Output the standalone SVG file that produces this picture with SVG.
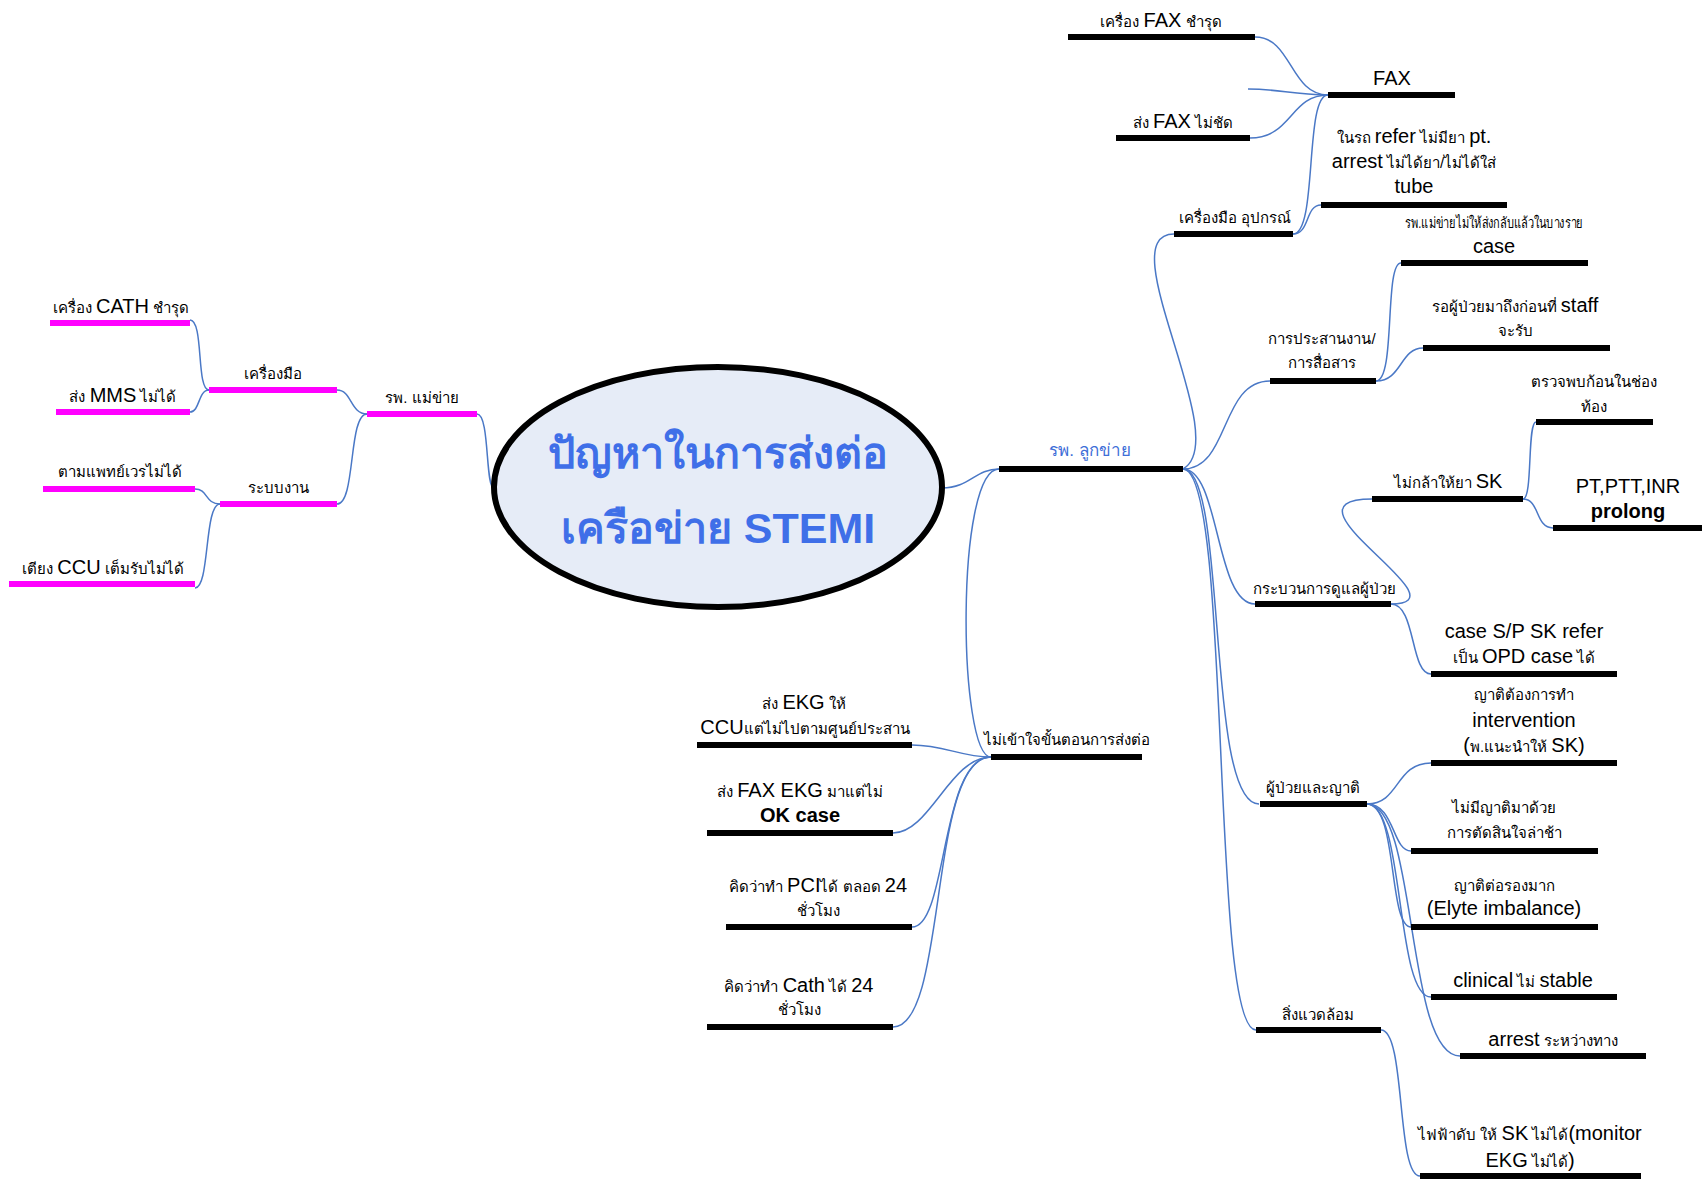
<svg xmlns="http://www.w3.org/2000/svg" width="1702" height="1180" viewBox="0 0 1702 1180">
<style>
text{font-family:"Liberation Sans","Noto Sans",sans-serif;fill:#000;text-anchor:middle}
.s{font-size:15px}
.b{font-size:20px}
.bb{font-size:20px;font-weight:bold}
.bar{stroke:#000;stroke-width:6;fill:none}
.mbar{stroke:#FF00FF;stroke-width:6;fill:none}
.c{fill:none;stroke:#4A78C6;stroke-width:1.5}
.blue{fill:#3F6FD8;font-size:17px}
.title{font-size:43px;fill:#3F6FE8;font-weight:bold}
</style>
<rect width="1702" height="1180" fill="#fff"/>
<g id="connectors">
<path class="c" d="M477,414 C490,414 485,488 494,488"/>
<path class="c" d="M367,414 C350,414 352,390 337,390"/>
<path class="c" d="M367,414 C348,414 356,504 337,504"/>
<path class="c" d="M209,390 C196,390 204,320 190,320"/>
<path class="c" d="M209,390 C198,390 200,412 190,412"/>
<path class="c" d="M220,504 C205,504 208,489 195,489"/>
<path class="c" d="M220,504 C204,504 210,588 195,588"/>
<path class="c" d="M942,488 C970,488 975,469 999,469"/>
<path class="c" d="M999,469 C955,469 958,757 991,757"/>
<path class="c" d="M912,745 C945,745 960,757 991,757"/>
<path class="c" d="M893,833 C930,833 950,757 991,757"/>
<path class="c" d="M912,927 C948,927 940,757 991,757"/>
<path class="c" d="M893,1027 C948,1027 928,757 991,757"/>
<path class="c" d="M1183,469 C1235,440 1108,234 1174,234"/>
<path class="c" d="M1183,469 C1230,469 1220,381 1270,381"/>
<path class="c" d="M1183,469 C1220,469 1215,604 1255,604"/>
<path class="c" d="M1183,469 C1228,469 1205,804 1259,804"/>
<path class="c" d="M1183,469 C1232,469 1210,1030 1256,1030"/>
<path class="c" d="M1255,37 C1292,37 1290,95 1328,95"/>
<path class="c" d="M1248,89 C1280,89 1292,95 1328,95"/>
<path class="c" d="M1250,138 C1292,138 1290,95 1328,95"/>
<path class="c" d="M1293,234 C1318,234 1304,95 1328,95"/>
<path class="c" d="M1293,234 C1310,234 1305,205 1321,205"/>
<path class="c" d="M1376,381 C1396,381 1384,263 1401,263"/>
<path class="c" d="M1376,381 C1402,381 1400,348 1423,348"/>
<path class="c" d="M1391,604 C1470,604 1270,499 1372,499"/>
<path class="c" d="M1523,499 C1533,499 1527,422 1536,422"/>
<path class="c" d="M1523,499 C1540,499 1535,528 1553,528"/>
<path class="c" d="M1391,604 C1416,604 1410,674 1431,674"/>
<path class="c" d="M1367,804 C1400,804 1395,763 1431,763"/>
<path class="c" d="M1367,804 C1395,804 1392,851 1411,851"/>
<path class="c" d="M1367,804 C1398,804 1388,927 1411,927"/>
<path class="c" d="M1367,804 C1405,804 1395,997 1431,997"/>
<path class="c" d="M1367,804 C1418,804 1405,1056 1460,1056"/>
<path class="c" d="M1381,1030 C1406,1030 1396,1176 1420,1176"/>
</g>
<g id="center">
<ellipse cx="718" cy="487" rx="224" ry="120" fill="#E6ECF7" stroke="#000" stroke-width="6"/>
<text class="title" x="718" y="468">ปัญหาในการส่งต่อ</text>
<text class="title" x="718" y="543">เครือข่าย STEMI</text>
</g>
<g id="n-mae"><line class="mbar" x1="367" y1="414" x2="477" y2="414"/><text class="s" x="422" y="403">รพ. แม่ข่าย</text></g>
<g id="n-tool"><line class="mbar" x1="209" y1="390" x2="337" y2="390"/><text class="s" x="273" y="379">เครื่องมือ</text></g>
<g id="n-cath"><line class="mbar" x1="50" y1="323" x2="190" y2="323"/><text x="121" y="313"><tspan class="s">เครื่อง </tspan><tspan class="b">CATH</tspan><tspan class="s"> ชำรุด</tspan></text></g>
<g id="n-mms"><line class="mbar" x1="56" y1="412" x2="190" y2="412"/><text x="123" y="402"><tspan class="s">ส่ง </tspan><tspan class="b">MMS</tspan><tspan class="s"> ไม่ได้</tspan></text></g>
<g id="n-sys"><line class="mbar" x1="220" y1="504" x2="337" y2="504"/><text class="s" x="278" y="493">ระบบงาน</text></g>
<g id="n-doc"><line class="mbar" x1="43" y1="489" x2="195" y2="489"/><text class="s" x="120" y="477">ตามแพทย์เวรไม่ได้</text></g>
<g id="n-bed"><line class="mbar" x1="9" y1="584" x2="195" y2="584"/><text x="103" y="574"><tspan class="s">เตียง </tspan><tspan class="b">CCU</tspan><tspan class="s"> เต็มรับไม่ได้</tspan></text></g>
<g id="n-luk"><line class="bar" x1="999" y1="469" x2="1183" y2="469"/><text class="blue" x="1090" y="456">รพ. ลูกข่าย</text></g>
<g id="n-equip"><line class="bar" x1="1174" y1="234" x2="1293" y2="234"/><text class="s" x="1235" y="223">เครื่องมือ อุปกรณ์</text></g>
<g id="n-fax"><line class="bar" x1="1328" y1="95" x2="1455" y2="95"/><text class="b" x="1392" y="85">FAX</text></g>
<g id="n-faxbroken"><line class="bar" x1="1068" y1="37" x2="1255" y2="37"/><text x="1161" y="27"><tspan class="s">เครื่อง </tspan><tspan class="b">FAX</tspan><tspan class="s"> ชำรุด</tspan></text></g>
<g id="n-faxunclear"><line class="bar" x1="1116" y1="138" x2="1250" y2="138"/><text x="1183" y="128"><tspan class="s">ส่ง </tspan><tspan class="b">FAX</tspan><tspan class="s"> ไม่ชัด</tspan></text></g>
<g id="n-car"><line class="bar" x1="1321" y1="205" x2="1507" y2="205"/>
<text x="1414" y="143"><tspan class="s">ในรถ </tspan><tspan class="b">refer</tspan><tspan class="s"> ไม่มียา </tspan><tspan class="b">pt.</tspan></text>
<text x="1414" y="168"><tspan class="b">arrest</tspan><tspan class="s"> ไม่ได้ยา/ไม่ได้ใส่</tspan></text>
<text class="b" x="1414" y="193">tube</text></g>
<g id="n-coord"><line class="bar" x1="1270" y1="381" x2="1376" y2="381"/><text class="s" x="1322" y="344">การประสานงาน/</text><text class="s" x="1322" y="368">การสื่อสาร</text></g>
<g id="n-somecase"><line class="bar" x1="1401" y1="263" x2="1588" y2="263"/><text class="s" x="1494" y="228" textLength="178" lengthAdjust="spacingAndGlyphs">รพ.แม่ข่ายไม่ให้ส่งกลับแล้วในบางราย</text><text class="b" x="1494" y="253">case</text></g>
<g id="n-staff"><line class="bar" x1="1423" y1="348" x2="1610" y2="348"/><text x="1515" y="312"><tspan class="s">รอผู้ป่วยมาถึงก่อนที่ </tspan><tspan class="b">staff</tspan></text><text class="s" x="1515" y="336">จะรับ</text></g>
<g id="n-care"><line class="bar" x1="1255" y1="604" x2="1391" y2="604"/><text class="s" x="1324" y="594">กระบวนการดูแลผู้ป่วย</text></g>
<g id="n-sk"><line class="bar" x1="1372" y1="499" x2="1523" y2="499"/><text x="1448" y="488"><tspan class="s">ไม่กล้าให้ยา </tspan><tspan class="b">SK</tspan></text></g>
<g id="n-mass"><line class="bar" x1="1536" y1="422" x2="1653" y2="422"/><text class="s" x="1594" y="387">ตรวจพบก้อนในช่อง</text><text class="s" x="1594" y="412">ท้อง</text></g>
<g id="n-pt"><line class="bar" x1="1553" y1="528" x2="1702" y2="528"/><text class="b" x="1628" y="493">PT,PTT,INR</text><text class="bb" x="1628" y="518">prolong</text></g>
<g id="n-opd"><line class="bar" x1="1431" y1="674" x2="1617" y2="674"/><text class="b" x="1524" y="638">case S/P SK refer</text><text x="1524" y="663"><tspan class="s">เป็น </tspan><tspan class="b">OPD case</tspan><tspan class="s"> ได้</tspan></text></g>
<g id="n-family"><line class="bar" x1="1260" y1="804" x2="1367" y2="804"/><text class="s" x="1313" y="793">ผู้ป่วยและญาติ</text></g>
<g id="n-interv"><line class="bar" x1="1431" y1="763" x2="1617" y2="763"/><text class="s" x="1524" y="700">ญาติต้องการทำ</text><text class="b" x="1524" y="727">intervention</text><text x="1524" y="752"><tspan class="b">(</tspan><tspan class="s">พ.แนะนำให้ </tspan><tspan class="b">SK)</tspan></text></g>
<g id="n-norel"><line class="bar" x1="1411" y1="851" x2="1598" y2="851"/><text class="s" x="1504" y="813">ไม่มีญาติมาด้วย</text><text class="s" x="1504" y="838">การตัดสินใจล่าช้า</text></g>
<g id="n-elyte"><line class="bar" x1="1411" y1="927" x2="1598" y2="927"/><text class="s" x="1504" y="891">ญาติต่อรองมาก</text><text class="b" x="1504" y="915">(Elyte imbalance)</text></g>
<g id="n-clin"><line class="bar" x1="1431" y1="997" x2="1617" y2="997"/><text x="1523" y="987"><tspan class="b">clinical</tspan><tspan class="s"> ไม่ </tspan><tspan class="b">stable</tspan></text></g>
<g id="n-arrest"><line class="bar" x1="1460" y1="1056" x2="1646" y2="1056"/><text x="1553" y="1046"><tspan class="b">arrest</tspan><tspan class="s"> ระหว่างทาง</tspan></text></g>
<g id="n-env"><line class="bar" x1="1256" y1="1030" x2="1381" y2="1030"/><text class="s" x="1318" y="1020">สิ่งแวดล้อม</text></g>
<g id="n-power"><line class="bar" x1="1420" y1="1176" x2="1641" y2="1176"/><text x="1530" y="1140"><tspan class="s">ไฟฟ้าดับ ให้ </tspan><tspan class="b">SK</tspan><tspan class="s"> ไม่ได้</tspan><tspan class="b">(monitor</tspan></text><text x="1530" y="1167"><tspan class="b">EKG</tspan><tspan class="s"> ไม่ได้</tspan><tspan class="b">)</tspan></text></g>
<g id="n-step"><line class="bar" x1="991" y1="757" x2="1142" y2="757"/><text class="s" x="1067" y="745">ไม่เข้าใจขั้นตอนการส่งต่อ</text></g>
<g id="n-ekg"><line class="bar" x1="697" y1="745" x2="912" y2="745"/><text x="804" y="709"><tspan class="s">ส่ง </tspan><tspan class="b">EKG</tspan><tspan class="s"> ให้</tspan></text><text x="805" y="734"><tspan class="b">CCU</tspan><tspan class="s">แต่ไม่ไปตามศูนย์ประสาน</tspan></text></g>
<g id="n-faxekg"><line class="bar" x1="707" y1="833" x2="893" y2="833"/><text x="800" y="797"><tspan class="s">ส่ง </tspan><tspan class="b">FAX EKG</tspan><tspan class="s"> มาแต่ไม่</tspan></text><text class="bb" x="800" y="822">OK case</text></g>
<g id="n-pci"><line class="bar" x1="726" y1="927" x2="912" y2="927"/><text x="818" y="892"><tspan class="s">คิดว่าทำ </tspan><tspan class="b">PCI</tspan><tspan class="s">ได้ ตลอด </tspan><tspan class="b">24</tspan></text><text class="s" x="818" y="916">ชั่วโมง</text></g>
<g id="n-cath24"><line class="bar" x1="707" y1="1027" x2="893" y2="1027"/><text x="799" y="992"><tspan class="s">คิดว่าทำ </tspan><tspan class="b">Cath</tspan><tspan class="s"> ได้ </tspan><tspan class="b">24</tspan></text><text class="s" x="799" y="1015">ชั่วโมง</text></g>
</svg>
